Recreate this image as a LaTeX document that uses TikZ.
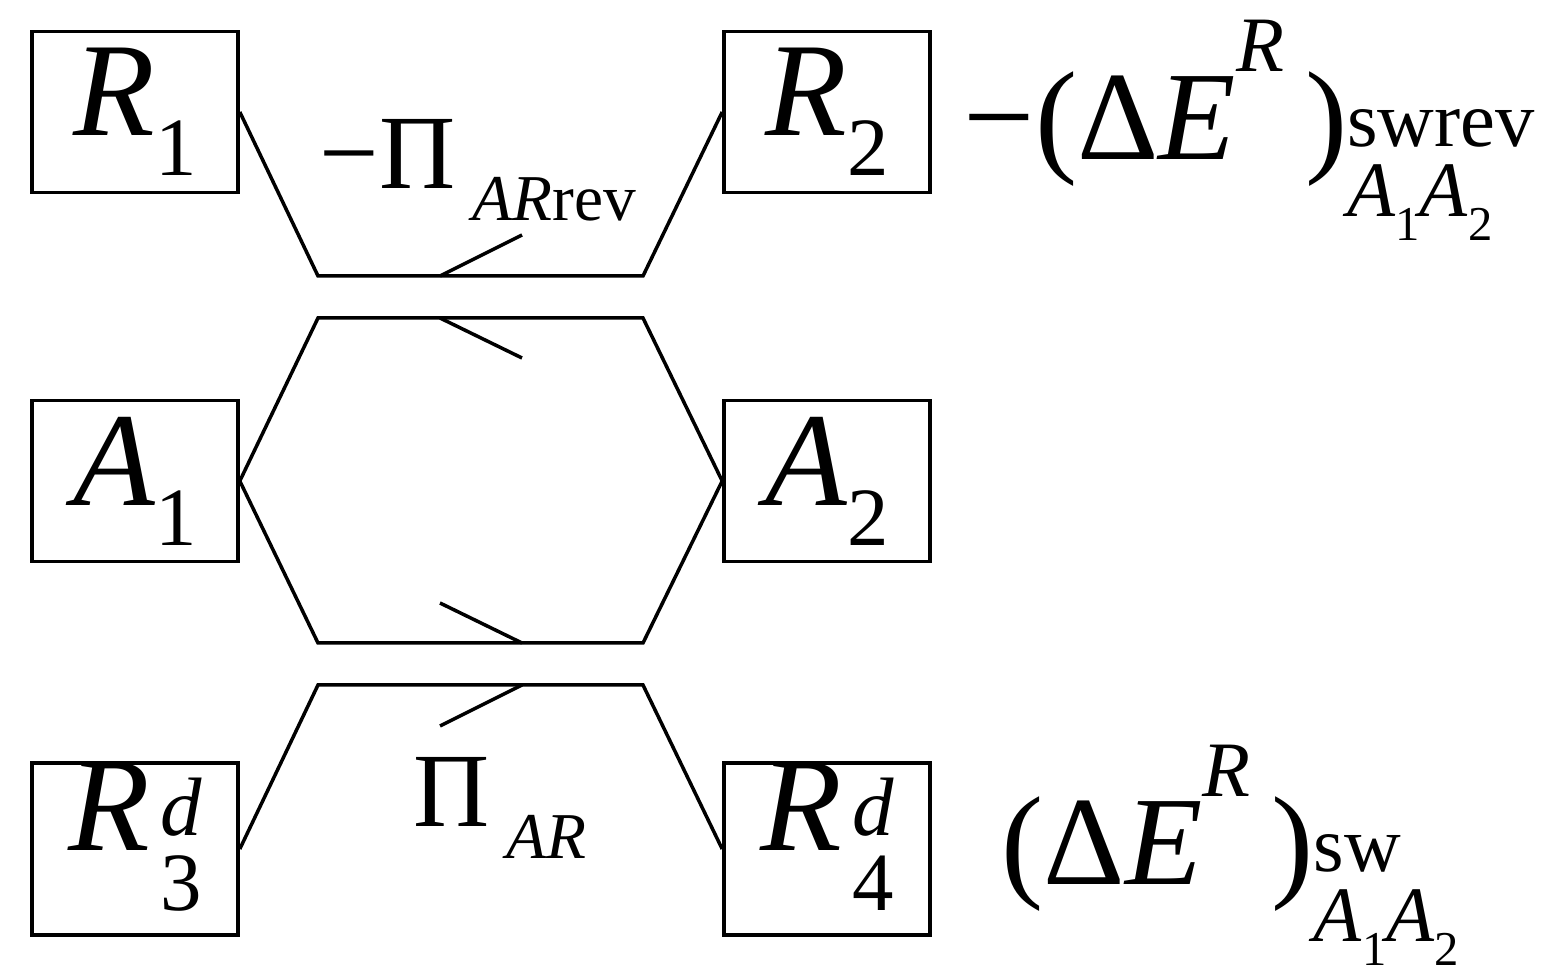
\documentclass[tikz,border=0pt]{standalone}
\usepackage{fontspec}
\usepackage{graphicx}
\setmainfont{Liberation Serif}
\newcommand\lo[1]{\raisebox{-0.3em}{\scalebox{0.62}{#1}}}
\newcommand\hi[1]{\raisebox{0.7em}{\scalebox{0.62}{#1}}}
\newcommand\hilo[2]{\raisebox{-0.45em}{\scalebox{0.62}{\begin{tabular}[b]{@{}l@{}}#1\\[-0.1em]#2\end{tabular}}}}
\begin{document}
\begin{tikzpicture}[x=0.01cm,y=-0.01cm,line width=0.035cm,
  bx/.style={draw,minimum width=2.06cm,minimum height=1.61cm,inner sep=0pt,font=\fontsize{38}{38}\selectfont}]
\useasboundingbox (0,0) rectangle (1568,976);
\node[bx] (r1) at (135,112) {\textit{R}\lo{1}};
\node[bx] (r2) at (827,112) {\textit{R}\lo{2}};
\node[bx] (a1) at (135,481) {\textit{A}\lo{1}};
\node[bx] (a2) at (827,481) {\textit{A}\lo{2}};
\node[bx] (r3) at (135,849) {\textit{R}\kern0.08em\hilo{\textit{d}}{3}};
\node[bx] (r4) at (827,849) {\textit{R}\kern0.08em\hilo{\textit{d}}{4}};
\coordinate (t1) at (318,276); \coordinate (t2) at (643,276);
\coordinate (m1) at (318,318); \coordinate (m2) at (643,318);
\coordinate (m3) at (643,643); \coordinate (m4) at (318,643);
\coordinate (b1) at (318,685); \coordinate (b2) at (643,685);
\draw (r1.east) -- (t1) -- (t2) -- (r2.west);
\draw (a1.east) -- (m1) -- (m2) -- (a2.west) -- (m3) -- (m4) -- cycle;
\draw (r3.east) -- (b1) -- (b2) -- (r4.west);
\coordinate (k1) at (440,276); \coordinate (k1e) at (522,235);
\coordinate (k2) at (440,318); \coordinate (k2e) at (522,358);
\coordinate (k3) at (440,603); \coordinate (k3e) at (522,643);
\coordinate (k4) at (522,685); \coordinate (k4e) at (440,726);
\draw (k1) -- (k1e); \draw (k2) -- (k2e); \draw (k3) -- (k3e); \draw (k4) -- (k4e);
\node[font=\fontsize{30}{30}\selectfont] (l1) at (478,170) {−Π\,\lo{\textit{AR}rev}};
\node[font=\fontsize{30}{30}\selectfont] (l2) at (500,808) {Π\,\lo{\textit{AR}}};
\node[font=\fontsize{36}{36}\selectfont,anchor=west,inner sep=0pt] (e1) at (962,130) {−(Δ\textit{E}\hi{\textit{R}}\,)\hilo{swrev}{\textit{A}\lo{1}\textit{A}\lo{2}}};
\node[font=\fontsize{36}{36}\selectfont,anchor=west,inner sep=0pt] (e2) at (1000,855) {(Δ\textit{E}\hi{\textit{R}}\,)\hilo{sw}{\textit{A}\lo{1}\textit{A}\lo{2}}};
\end{tikzpicture}
\end{document}
